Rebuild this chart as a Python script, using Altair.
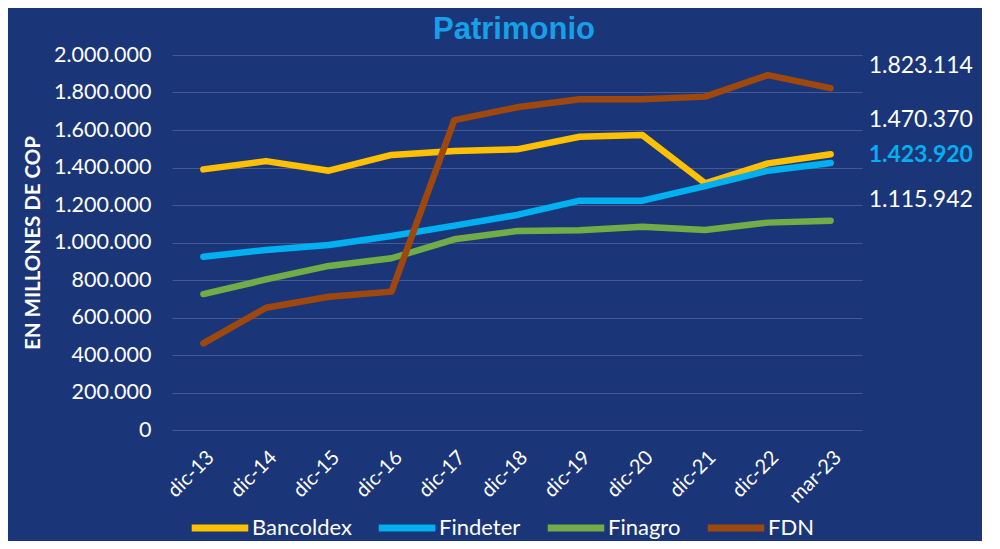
import altair as alt
import pandas as pd

periods = ["dic-13", "dic-14", "dic-15", "dic-16", "dic-17", "dic-18",
           "dic-19", "dic-20", "dic-21", "dic-22", "mar-23"]
series_names = ["Bancoldex", "Findeter", "Finagro", "FDN"]
series_colors = ["#FFC000", "#00B0F0", "#70AD47", "#9E480E"]
y_ticks = [0, 200000, 400000, 600000, 800000, 1000000, 1200000,
           1400000, 1600000, 1800000, 2000000]

bancoldex = [1390000, 1434000, 1383000, 1467000, 1488000, 1497000,
             1564000, 1573000, 1316000, 1422000, 1470370]
findeter = [924000, 960000, 987000, 1035000, 1090000, 1147000,
            1223000, 1223000, 1301000, 1383000, 1423920]
finagro = [725000, 803000, 875000, 916000, 1017000, 1061000,
           1065000, 1084000, 1067000, 1106000, 1115942]
fdn = [462000, 652000, 711000, 738000, 1653000, 1721000,
       1764000, 1764000, 1778000, 1893000, 1823114]

values = {"Bancoldex": bancoldex, "Findeter": findeter,
          "Finagro": finagro, "FDN": fdn}

rows = []
for s in series_names:
    for p, v in zip(periods, values[s]):
        rows.append({"periodo": p, "serie": s, "valor": v,
                     "etiqueta": f"{v:,}".replace(",", ".")})
df = pd.DataFrame(rows)

FONT = "Lato"
BG = "#1b3579"

x_enc = alt.X("periodo:N", sort=periods,
              scale=alt.Scale(type="point", padding=0.5),
              axis=alt.Axis(title=None, labelAngle=-45, labelFontSize=20,
                            labelColor="white", labelFont=FONT, ticks=False,
                            domain=False, grid=False, labelPadding=17,
                            labelOverlap=False))
y_enc = alt.Y("valor:Q", scale=alt.Scale(domain=[0, 2000000]),
              axis=alt.Axis(title="EN MILLONES DE COP", titleFontSize=20.5,
                            titleFontWeight="bold", titleColor="white",
                            titleFont=FONT, titlePadding=10,
                            values=y_ticks,
                            labelExpr="replace(format(datum.value, ','), regexp(',', 'g'), '.')",
                            labelFontSize=21.5, labelColor="white", labelFont=FONT,
                            labelOverlap=False,
                            ticks=False, domain=False, labelPadding=21,
                            grid=True, gridColor="white", gridOpacity=0.18,
                            gridWidth=1))
color_enc = alt.Color("serie:N",
                      scale=alt.Scale(domain=series_names, range=series_colors),
                      legend=alt.Legend(title=None, orient="none", direction="horizontal",
                                        legendX=16, legendY=441,
                                        symbolType="stroke", symbolStrokeWidth=7,
                                        symbolSize=3200, labelFontSize=22,
                                        labelColor="white", labelFont=FONT,
                                        columnPadding=12, labelOffset=0))

lines = alt.Chart(df).mark_line(strokeWidth=6.5, strokeCap="round",
                                strokeJoin="round").encode(
    x=x_enc, y=y_enc, color=color_enc)

last = df[df["periodo"] == "mar-23"]
label_style = {
    "FDN": (-22, "white", "normal"),
    "Bancoldex": (-34, "white", "normal"),
    "Findeter": (-8, "#00B0F0", "bold"),
    "Finagro": (-21, "white", "normal"),
}
label_layers = []
for s in series_names:
    dy, col, fw = label_style[s]
    label_layers.append(
        alt.Chart(last[last["serie"] == s]).mark_text(
            align="left", baseline="middle", dx=38, dy=dy, fontSize=23,
            font=FONT, color=col, fontWeight=fw).encode(
            x=x_enc, y=y_enc, text="etiqueta:N"))

chart = alt.layer(lines, *label_layers).properties(
    width=690, height=375,
    title=alt.TitleParams("Patrimonio", fontSize=31, font="Liberation Sans",
                          fontWeight="bold", color="#16A0E8", anchor="middle",
                          offset=-2, dx=-3),
    background=BG,
    autosize="none",
    padding={"left": 164, "top": 47, "right": 120, "bottom": 111},
).configure_view(stroke=None)

chart.save("out.html", embed_options={"renderer": "svg", "actions": False})
